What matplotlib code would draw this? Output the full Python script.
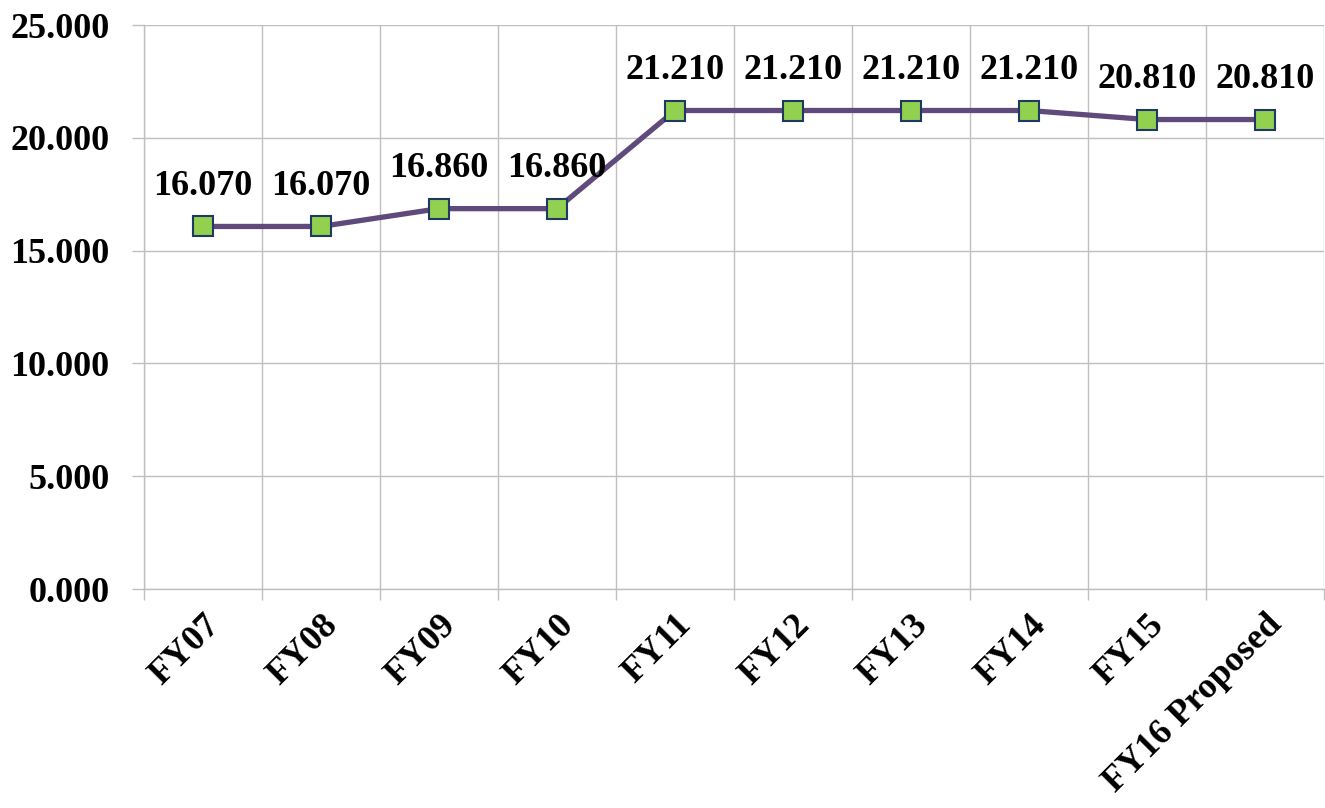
import matplotlib
matplotlib.use("Agg")
import matplotlib.pyplot as plt
from matplotlib.ticker import MultipleLocator, FixedLocator

anios = ["FY07", "FY08", "FY09", "FY10", "FY11", "FY12", "FY13", "FY14", "FY15", "FY16 Proposed"]
valores = [16.070, 16.070, 16.860, 16.860, 21.210, 21.210, 21.210, 21.210, 20.810, 20.810]

plt.rcParams['font.family'] = ['Liberation Serif', 'DejaVu Serif']
plt.rcParams['font.weight'] = 'bold'

fig = plt.figure(figsize=(13.25, 8.08), dpi=100)
ax = fig.add_axes([144/1325, 1 - 589/808, (1324 - 144)/1325, (589 - 25)/808])

x = list(range(len(anios)))
ax.plot(x, valores, color='#604A7B', linewidth=3.8, zorder=3,
        marker='s', markersize=14, markerfacecolor='#92D050',
        markeredgecolor='#1F3864', markeredgewidth=1.5)

for i, v in enumerate(valores):
    ax.annotate('{:.3f}'.format(v), (i, v), xytext=(0, 29), textcoords='offset points',
                ha='center', va='center', fontsize=26, fontweight='bold', zorder=4)

ax.set_xlim(-0.5, len(anios) - 0.5)
ax.set_ylim(0, 25)

gris = '#BFBFBF'
ax.yaxis.set_major_locator(MultipleLocator(5))
ax.set_yticklabels(['{:.3f}'.format(t) for t in ax.get_yticks()])
ax.tick_params(axis='y', length=9, color=gris, width=1, pad=16, labelsize=26)
ax.grid(axis='y', color=gris, linewidth=1)

ax.set_xticks(x)
ax.set_xticklabels(anios, rotation=45, ha='right', rotation_mode='anchor', fontsize=26)
ax.tick_params(axis='x', which='major', length=0, pad=14)
ax.xaxis.set_minor_locator(FixedLocator([i - 0.5 for i in range(len(anios) + 1)]))
ax.tick_params(axis='x', which='minor', length=8, color=gris, width=1)
ax.grid(axis='x', which='minor', color=gris, linewidth=1)

for s in ['top', 'right']:
    ax.spines[s].set_visible(False)
for s in ['left', 'bottom']:
    ax.spines[s].set_color(gris)
    ax.spines[s].set_linewidth(1)

ax.set_axisbelow(True)
fig.savefig('out.png', dpi=100)
